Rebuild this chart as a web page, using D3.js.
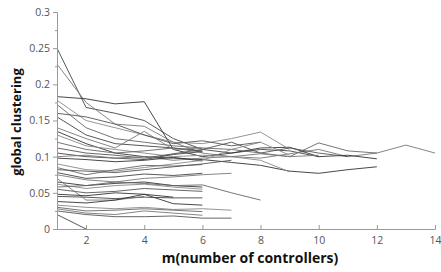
<!DOCTYPE html>
<html><head><meta charset="utf-8">
<script src="https://cdn.jsdelivr.net/npm/d3@7"></script>
<style>body{margin:0;background:#fff}</style>
</head><body>
<svg id="c" width="441" height="272"></svg>
<script>
const xTicks = [2,4,6,8,10,12,14];
const yTicks = [0,0.05,0.1,0.15,0.2,0.25,0.3];
const xLabel = "m(number of controllers)";
const yLabel = "global clustering";
// each series: clustering value at m = 1,2,3,...
const s1  = [0.250,0.168,0.160,0.150,0.125,0.110,0.105,0.110,0.108,0.100];
const s2  = [0.228,0.175,0.145,0.142,0.120,0.105,0.100,0.098,0.104,0.110,0.100,0.105,0.116,0.105];
const s3  = [0.183,0.180,0.173,0.176,0.110,0.100,0.105,0.112,0.113,0.100,0.102,0.097];
const s4  = [0.178,0.150,0.140,0.130,0.120,0.118,0.125,0.134,0.110];
const s5  = [0.172,0.140,0.125,0.120,0.115,0.112,0.110,0.105,0.100,0.119,0.108,0.105];
const s6  = [0.160,0.155,0.145,0.130,0.118,0.122,0.115,0.120];
const s7  = [0.155,0.130,0.118,0.115,0.112,0.108];
const s8  = [0.140,0.125,0.112,0.135,0.110,0.112];
const s9  = [0.135,0.118,0.105,0.100,0.098,0.096,0.092,0.088,0.080,0.077,0.082,0.086];
const s10 = [0.130,0.115,0.110,0.105,0.100,0.102,0.100,0.095,0.079];
const s11 = [0.120,0.110,0.105,0.108,0.112,0.106];
const s12 = [0.112,0.105,0.102,0.098,0.104,0.110,0.120,0.105,0.112,0.105,0.100];
const s13 = [0.105,0.100,0.098,0.096,0.103,0.107];
const s14 = [0.100,0.102,0.098,0.100,0.095,0.098,0.100,0.104,0.100,0.102];
const s15 = [0.098,0.096,0.093,0.095,0.099,0.094];
const s16 = [0.090,0.082,0.080,0.085,0.090,0.095,0.110,0.120,0.102];
const s17 = [0.085,0.075,0.082,0.088,0.087,0.089];
const s18 = [0.082,0.080,0.078,0.082,0.086,0.090,0.095];
const s19 = [0.078,0.070,0.072,0.076,0.074,0.077];
const s20 = [0.075,0.068,0.065,0.070,0.072,0.075,0.077];
const s21 = [0.065,0.060,0.063,0.065,0.060,0.058];
const s22 = [0.062,0.056,0.060,0.062,0.058,0.055];
const s23 = [0.058,0.060,0.065,0.063,0.060,0.061,0.050,0.040];
const s24 = [0.055,0.050,0.052,0.056,0.054,0.052];
const s25 = [0.045,0.044,0.042,0.044,0.043,0.043];
const s26 = [0.070,0.040,0.040,0.045];
const s27 = [0.038,0.036,0.040,0.048,0.044];
const s28 = [0.033,0.030,0.028,0.030,0.027,0.028,0.026];
const s29 = [0.030,0.025,0.026,0.028,0.026,0.024];
const s30 = [0.025,0.020,0.017,0.017,0.018,0.015,0.015];
const s31 = [0.020,0.000];
const s32 = [0.028,0.022,0.020,0.025,0.022,0.019];
const s33 = [0.048,0.046,0.050,0.048,0.035,0.033];
const series = [s1,s2,s3,s4,s5,s6,s7,s8,s9,s10,s11,s12,s13,s14,s15,s16,s17,s18,s19,s20,s21,s22,s23,s24,s25,s26,s27,s28,s29,s30,s31,s32,s33];
const strokes = ["#444","#777","#333","#888","#666","#555"];

const svg = d3.select("#c");
const x = d3.scaleLinear().domain([1,14]).range([57,435]);
const y = d3.scaleLinear().domain([0,0.3]).range([229,12]);

const line = d3.line().x((d,i)=>x(i+1)).y(d=>y(d));
svg.append("g").selectAll("path").data(series).join("path")
  .attr("d", line).attr("fill","none")
  .attr("stroke",(d,i)=>strokes[i%strokes.length])
  .attr("stroke-width",0.9);

const axisColor = "#999";
const gx = svg.append("g").attr("transform","translate(0,229)")
  .call(d3.axisBottom(x).tickValues(xTicks).tickSize(-4).tickPadding(8).tickFormat(d3.format("d")));
const gy = svg.append("g").attr("transform","translate(57,0)")
  .call(d3.axisLeft(y).tickValues(yTicks).tickSize(4).tickPadding(3).tickFormat(d=>d===0?"0":String(d)));
svg.append("g").attr("transform","translate(57,0)")
  .call(d3.axisLeft(y).tickValues(d3.range(0.025,0.3,0.05)).tickSize(2).tickFormat(""))
  .call(g=>g.select(".domain").remove());
svg.selectAll(".domain").attr("stroke",axisColor);
svg.selectAll(".tick line").attr("stroke",axisColor);
svg.selectAll(".tick text").attr("fill","#555").style("font-family","Open Sans, sans-serif").style("font-size","10.5px");

svg.append("text").attr("x",250).attr("y",263).attr("text-anchor","middle")
  .style("font-family","Open Sans, sans-serif").style("font-weight","bold").style("font-size","14px").attr("fill","#111")
  .text(xLabel);
svg.append("text").attr("transform","translate(21,122) rotate(-90)").attr("text-anchor","middle")
  .style("font-family","Open Sans, sans-serif").style("font-weight","bold").style("font-size","13px").attr("fill","#111")
  .text(yLabel);
</script>
</body></html>
